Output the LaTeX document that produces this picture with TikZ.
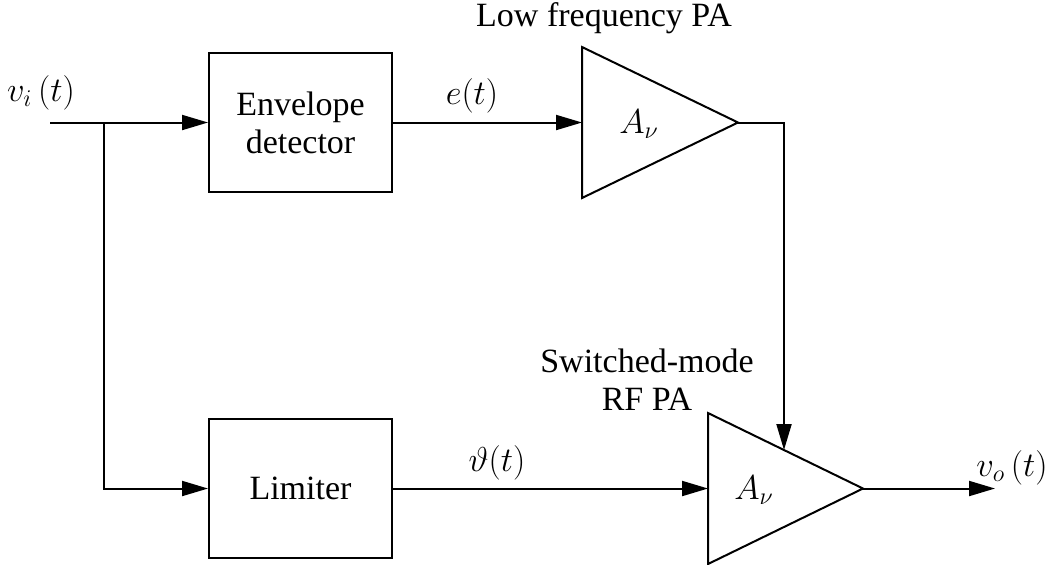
\documentclass[tikz,border=0pt]{standalone}
\usepackage{fontspec}
\setmainfont{Liberation Serif}
\usetikzlibrary{arrows.meta,positioning}

\begin{document}
\begin{tikzpicture}[
    x=0.5pt, y=-0.5pt,
    font=\fontsize{17}{19}\selectfont,
    box/.style={draw, line width=1pt, align=center, minimum width=91.5pt, minimum height=69.5pt},
    amp/.style={draw, line width=1pt, line join=miter},
    wire/.style={line width=1pt},
    arrow/.style={-{Triangle[length=13pt,width=7.5pt]}, line width=1pt}
  ]
    \useasboundingbox (0,0) rectangle (1052,564);
    % blocks
    \node[box] (env) at (300.5,122.5) {Envelope\\detector};
    \node[box] (lim) at (300.5,488.5) {Limiter};
    % amplifiers
    \coordinate (lfin) at (582,122.5);
    \coordinate (lfout) at (738,122.5);
    \coordinate (rfin) at (708,488.5);
    \coordinate (rfout) at (863,488.5);
    \draw[amp] (582,47) -- (lfout) -- (582,198) -- cycle;
    \draw[amp] (708,413) -- (rfout) -- (708,564) -- cycle;
    \node (lfgain) at (639,124) {$A_{\nu}$};
    \node (rfgain) at (754,490) {$A_{\nu}$};
    \node (lflabel) at (604,18) {Low frequency PA};
    \node[align=center] (rflabel) at (647,380) {Switched-mode\\RF PA};
    % signals
    \coordinate (in) at (50,122.5);
    \coordinate (split) at (104,122.5);
    \coordinate (rfjoin) at (784,450);
    \coordinate (out) at (995,488.5);
    \draw[arrow] (in) -- (env.west);
    \draw[arrow] (split) |- (lim.west);
    \draw[arrow] (env.east) -- (lfin);
    \draw[arrow] (lim.east) -- (rfin);
    \draw[arrow] (lfout) -| (rfjoin);
    \draw[arrow] (rfout) -- (out);
    \node (vi) at (41,93) {$v_i\,(t)$};
    \node (et) at (472,96) {$e(t)$};
    \node (tht) at (497,463) {$\vartheta(t)$};
    \node (vo) at (1012,468) {$v_o\,(t)$};
  \end{tikzpicture}
\end{document}
